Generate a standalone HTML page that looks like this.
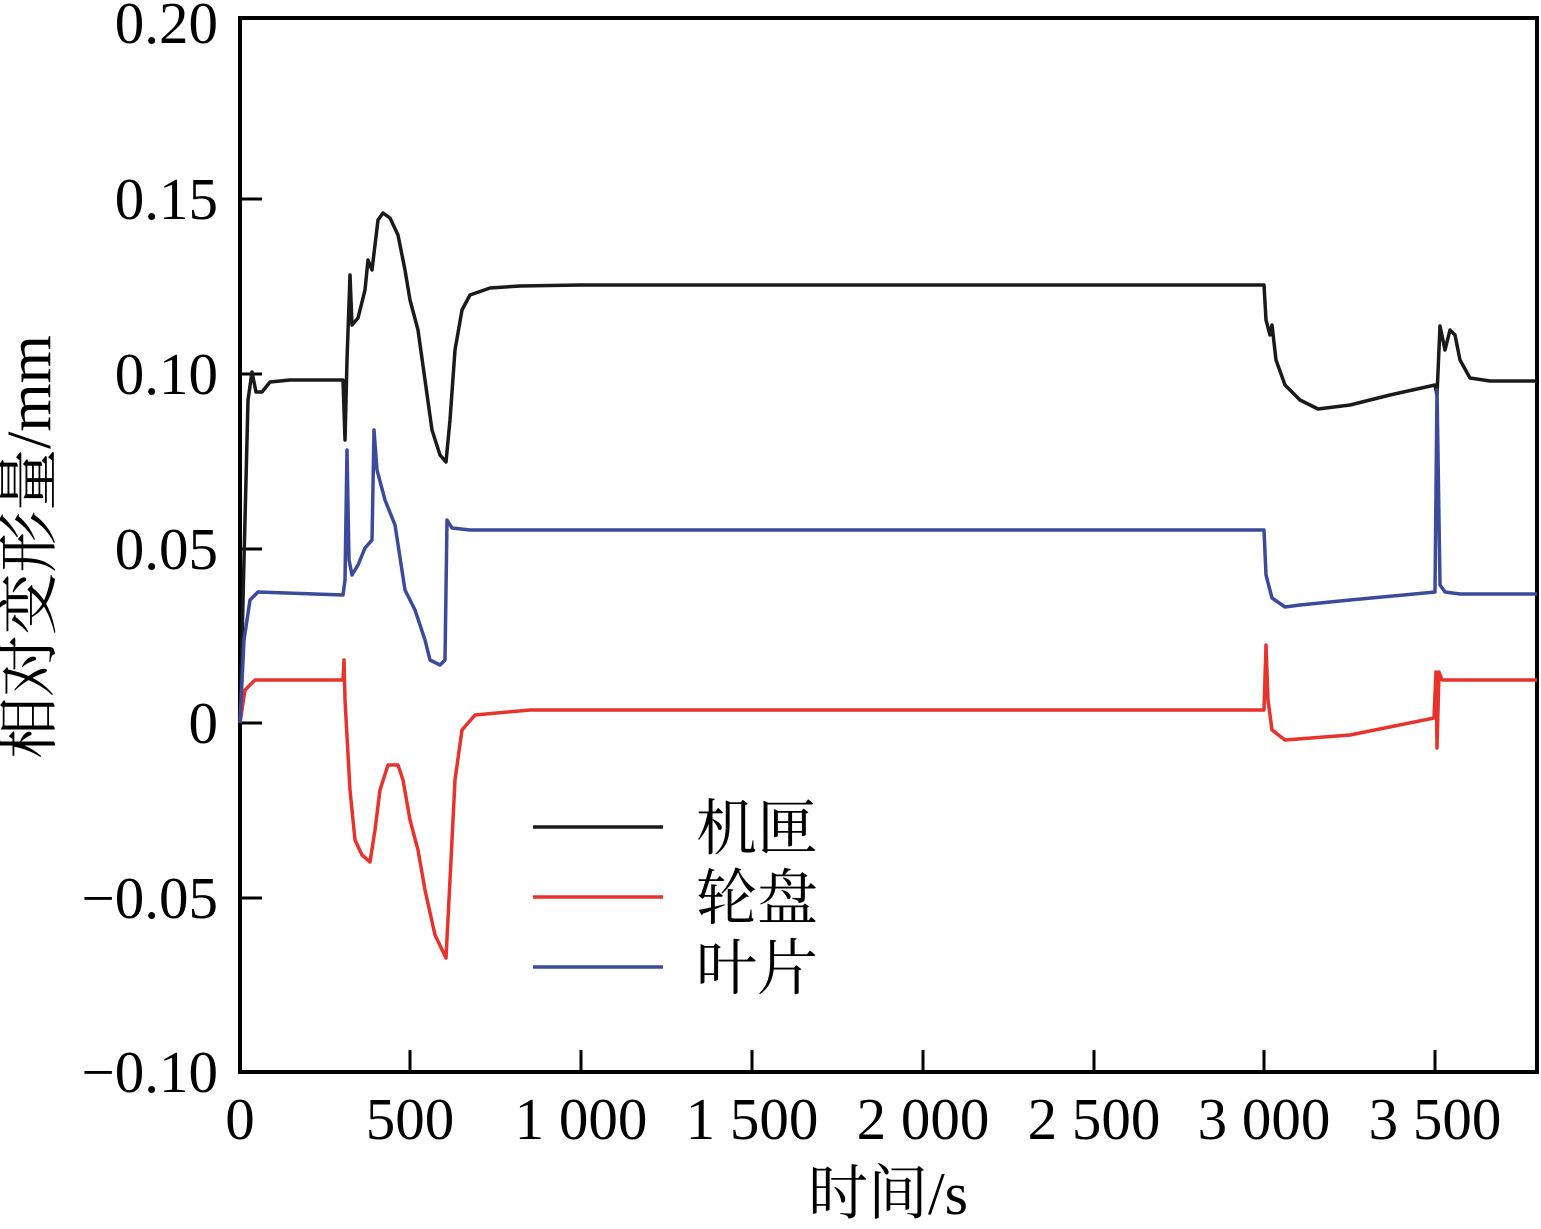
<!DOCTYPE html>
<html><head><meta charset="utf-8"><style>body{margin:0;background:#fff}</style></head><body>
<svg width="1541" height="1224" xmlns="http://www.w3.org/2000/svg" style="font-family:'Liberation Serif','Noto Serif CJK SC',serif">
<rect x="240" y="18" width="1297" height="1054" fill="none" stroke="#000" stroke-width="4"/>
<g stroke="#000" stroke-width="3">
<line x1="240" y1="199" x2="262" y2="199"/><line x1="240" y1="374" x2="262" y2="374"/><line x1="240" y1="549" x2="262" y2="549"/><line x1="240" y1="723" x2="262" y2="723"/><line x1="240" y1="898" x2="262" y2="898"/>
<line x1="410" y1="1072" x2="410" y2="1050"/><line x1="581" y1="1072" x2="581" y2="1050"/><line x1="752" y1="1072" x2="752" y2="1050"/><line x1="923" y1="1072" x2="923" y2="1050"/><line x1="1094" y1="1072" x2="1094" y2="1050"/><line x1="1264" y1="1072" x2="1264" y2="1050"/><line x1="1435" y1="1072" x2="1435" y2="1050"/>
</g>
<g font-size="59" text-anchor="end">
<text x="218" y="43">0.20</text><text x="218" y="219">0.15</text><text x="218" y="394">0.10</text><text x="218" y="569">0.05</text><text x="218" y="743">0</text><text x="218" y="918">−0.05</text><text x="218" y="1092">−0.10</text>
</g>
<g font-size="59" text-anchor="middle">
<text x="240" y="1139">0</text><text x="410" y="1139">500</text><text x="581" y="1139">1 000</text><text x="752" y="1139">1 500</text><text x="923" y="1139">2 000</text><text x="1094" y="1139">2 500</text><text x="1264" y="1139">3 000</text><text x="1435" y="1139">3 500</text>
<text x="888" y="1214" font-size="60">时间/s</text>
</g>
<text transform="translate(50,547) rotate(-90)" font-size="62" text-anchor="middle">相对变形量/mm</text>
<g fill="none" stroke-width="3.5" stroke-linejoin="round">
<polyline stroke="#1a1a1a" points="240,723 244,560 248,400 252,372 256,392 262,392 270,382 290,380 343,380 345,440 347,360 350,275 352,325 358,318 365,290 368,260 372,270 378,220 383,213 390,218 398,235 405,270 410,300 418,330 425,380 432,430 440,455 446,462 450,420 455,350 462,310 470,295 490,288 520,286 580,285 1264,285 1266,320 1270,335 1272,325 1276,360 1285,385 1300,400 1318,409 1350,405 1390,395 1435,385 1437,395 1440,326 1445,350 1450,330 1455,335 1460,360 1470,378 1490,381 1537,381"/>
<polyline stroke="#e8322c" points="240,723 245,690 255,680 343,680 344,660 345,700 350,790 355,840 362,855 370,862 375,830 380,790 388,765 398,765 403,780 410,820 418,850 425,890 435,935 446,958 450,880 455,780 462,730 475,715 530,710 1264,710 1266,645 1268,700 1272,730 1285,740 1350,735 1434,718 1436,672 1437,748 1439,672 1442,680 1450,680 1537,680"/>
<polyline stroke="#3b4a9a" points="240,723 244,640 250,600 258,592 343,595 345,580 347,450 349,560 352,575 358,565 365,548 372,540 374,430 377,470 385,500 395,525 405,590 415,610 425,640 430,660 440,665 445,660 447,520 452,528 470,530 1264,530 1266,575 1272,598 1285,607 1300,605 1350,600 1435,592 1437,390 1440,585 1445,592 1460,594 1537,594"/>
<line x1="533" y1="827" x2="663" y2="827" stroke="#1a1a1a"/>
<line x1="533" y1="897" x2="663" y2="897" stroke="#e8322c"/>
<line x1="533" y1="967" x2="663" y2="967" stroke="#3b4a9a"/>
</g>
<g font-size="61">
<text x="696" y="849">机匣</text><text x="696" y="919">轮盘</text><text x="696" y="989">叶片</text>
</g>
</svg>
</body></html>
